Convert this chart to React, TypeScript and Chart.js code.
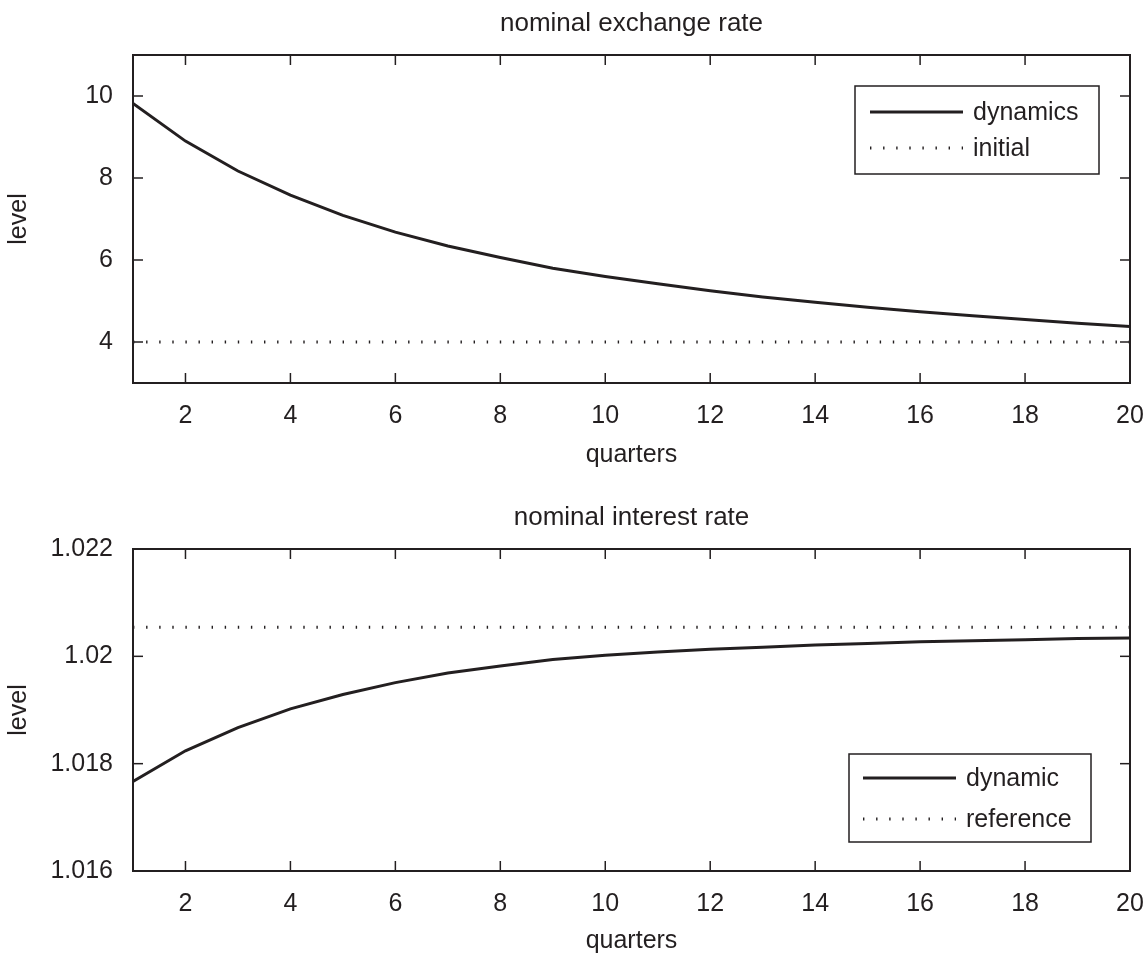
import React, { useEffect, useRef } from "react";
import { Chart, registerables } from "chart.js";

Chart.register(...registerables);

// ---------- data ----------
const quarters = [1, 2, 3, 4, 5, 6, 7, 8, 9, 10, 11, 12, 13, 14, 15, 16, 17, 18, 19, 20];
const quarterTicks = [2, 4, 6, 8, 10, 12, 14, 16, 18, 20];

const exchangeDynamics = [9.82, 8.9, 8.17, 7.58, 7.09, 6.68, 6.34, 6.06, 5.8, 5.6, 5.42, 5.25, 5.1, 4.97, 4.85, 4.74, 4.64, 4.55, 4.46, 4.38];
const exchangeInitial = [4, 4, 4, 4, 4, 4, 4, 4, 4, 4, 4, 4, 4, 4, 4, 4, 4, 4, 4, 4];
const exchangeTicks = [4, 6, 8, 10];

const interestDynamic = [1.01767, 1.01824, 1.01867, 1.01902, 1.01929, 1.01951, 1.01969, 1.01982, 1.01994, 1.02002, 1.02008, 1.02013, 1.02017, 1.02021, 1.02024, 1.02027, 1.02029, 1.02031, 1.02033, 1.02034];
const interestReference = [1.02054, 1.02054, 1.02054, 1.02054, 1.02054, 1.02054, 1.02054, 1.02054, 1.02054, 1.02054, 1.02054, 1.02054, 1.02054, 1.02054, 1.02054, 1.02054, 1.02054, 1.02054, 1.02054, 1.02054];
const interestTicks = [1.016, 1.018, 1.02, 1.022];

// ---------- styles ----------
const INK = "#231f20";
const FONT = "'Liberation Sans', Arial, Helvetica, sans-serif";
const FS = 25;
const TITLE_FS = 26;

const frameTicksPlugin = {
  id: "frameTicks",
  afterDatasetsDraw(chart: any, _args: any, opts: any) {
    const { ctx, chartArea: a, scales } = chart;
    const len = 10;
    ctx.save();
    ctx.strokeStyle = INK;
    ctx.lineWidth = 1.5;
    const seg = (x1: number, y1: number, x2: number, y2: number) => {
      ctx.beginPath();
      ctx.moveTo(x1, y1);
      ctx.lineTo(x2, y2);
      ctx.stroke();
    };
    scales.x.ticks.forEach((t: any) => {
      const px = scales.x.getPixelForValue(t.value);
      seg(px, a.bottom, px, a.bottom - len);
      seg(px, a.top, px, a.top + len);
    });
    scales.y.ticks.forEach((t: any) => {
      const py = scales.y.getPixelForValue(t.value);
      seg(a.left, py, a.left + len, py);
      seg(a.right, py, a.right - len, py);
    });
    ctx.lineWidth = 2;
    ctx.strokeRect(a.left, a.top, a.right - a.left, a.bottom - a.top);

    // title centred over the plot area
    if (opts && opts.title) {
      ctx.fillStyle = INK;
      ctx.font = `${TITLE_FS}px ${FONT}`;
      ctx.textAlign = "center";
      ctx.textBaseline = "alphabetic";
      ctx.fillText(opts.title, (a.left + a.right) / 2, a.top - opts.titleGap);
    }

    // legend box
    const lg = opts && opts.legend;
    if (lg) {
      const bx = a.left + lg.left;
      const by = a.top + lg.top;
      ctx.fillStyle = "#ffffff";
      ctx.fillRect(bx, by, lg.width, lg.height);
      ctx.lineWidth = 1.5;
      ctx.strokeStyle = INK;
      ctx.strokeRect(bx, by, lg.width, lg.height);
      ctx.font = `${FS}px ${FONT}`;
      ctx.textBaseline = "middle";
      ctx.textAlign = "left";
      chart.data.datasets.forEach((ds: any, i: number) => {
        const ry = by + lg.rows[i];
        ctx.save();
        ctx.strokeStyle = ds.borderColor;
        ctx.lineWidth = ds.borderWidth;
        ctx.lineCap = "butt";
        ctx.setLineDash(ds.borderDash || []);
        ctx.beginPath();
        ctx.moveTo(bx + lg.lineStart, ry);
        ctx.lineTo(bx + lg.lineEnd, ry);
        ctx.stroke();
        ctx.restore();
        ctx.fillStyle = INK;
        ctx.fillText(ds.label, bx + lg.textX, ry + 1);
      });
    }
    ctx.restore();
  },
};

type PlotProps = {
  top: number;
  height: number;
  title: string;
  padTop: number;
  xAxisHeight: number;
  yMin: number;
  yMax: number;
  yTicks: number[];
  labels: [string, string];
  solid: number[];
  dotted: number[];
  legend: any;
};

function SubPlot(p: PlotProps) {
  const ref = useRef<HTMLCanvasElement | null>(null);
  useEffect(() => {
    if (!ref.current) return;
    const chart = new Chart(ref.current, {
      type: "line",
      data: {
        datasets: [
          {
            label: p.labels[0],
            data: quarters.map((q, i) => ({ x: q, y: p.solid[i] })),
            borderColor: INK,
            borderWidth: 3,
            pointRadius: 0,
            tension: 0,
            fill: false,
          },
          {
            label: p.labels[1],
            data: quarters.map((q, i) => ({ x: q, y: p.dotted[i] })),
            borderColor: INK,
            borderWidth: 3,
            borderDash: [1.4, 11.7],
            borderCapStyle: "butt",
            pointRadius: 0,
            tension: 0,
            fill: false,
          },
        ],
      },
      options: {
        responsive: false,
        animation: false,
        events: [],
        layout: { padding: { top: p.padTop, left: 0, right: 18, bottom: 0 } },
        plugins: {
          legend: { display: false },
          tooltip: { enabled: false },
          title: { display: false },
          frameTicks: { legend: p.legend, title: p.title, titleGap: 24 },
        } as any,
        scales: {
          x: {
            type: "linear",
            min: 1,
            max: 20,
            afterBuildTicks: (s: any) => {
              s.ticks = quarterTicks.map((v) => ({ value: v }));
            },
            afterFit: (s: any) => {
              s.height = p.xAxisHeight;
              s.paddingRight = 0;
              s.paddingLeft = 0;
            },
            grid: { display: false, drawTicks: false },
            border: { display: false },
            ticks: {
              color: INK,
              font: { family: FONT, size: FS },
              padding: 18,
              maxRotation: 0,
              autoSkip: false,
            },
            title: {
              display: true,
              text: "quarters",
              color: INK,
              font: { family: FONT, size: FS },
              padding: { top: 0, bottom: 0 },
            },
          },
          y: {
            type: "linear",
            min: p.yMin,
            max: p.yMax,
            afterBuildTicks: (s: any) => {
              s.ticks = p.yTicks.map((v) => ({ value: v }));
            },
            afterFit: (s: any) => {
              s.width = 133;
              s.paddingTop = 0;
              s.paddingBottom = 0;
            },
            grid: { display: false, drawTicks: false },
            border: { display: false },
            ticks: {
              color: INK,
              font: { family: FONT, size: FS },
              padding: 20,
              autoSkip: false,
              callback: (v: any) => String(Number(Number(v).toFixed(4))),
            },
            title: {
              display: true,
              text: "level",
              color: INK,
              font: { family: FONT, size: FS },
              padding: { top: 4, bottom: 0 },
            },
          },
        },
      } as any,
      plugins: [frameTicksPlugin],
    });
    return () => chart.destroy();
  }, []);
  return (
    <div style={{ position: "absolute", left: 0, top: p.top, width: 1148, height: p.height }}>
      <canvas ref={ref} width={1148} height={p.height} style={{ display: "block" }} />
    </div>
  );
}

export default function App() {
  return (
    <div style={{ position: "absolute", left: 0, top: 0, width: 1148, height: 956, background: "#fff", overflow: "hidden" }}>
      <SubPlot
        top={0}
        height={470}
        title="nominal exchange rate"
        padTop={55}
        xAxisHeight={87}
        yMin={3}
        yMax={11}
        yTicks={exchangeTicks}
        labels={["dynamics", "initial"]}
        solid={exchangeDynamics}
        dotted={exchangeInitial}
        legend={{ left: 722, top: 31, width: 244, height: 88, lineStart: 15, lineEnd: 108, textX: 118, rows: [26, 62] }}
      />
      <SubPlot
        top={470}
        height={486}
        title="nominal interest rate"
        padTop={79}
        xAxisHeight={85}
        yMin={1.016}
        yMax={1.022}
        yTicks={interestTicks}
        labels={["dynamic", "reference"]}
        solid={interestDynamic}
        dotted={interestReference}
        legend={{ left: 716, top: 205, width: 242, height: 88, lineStart: 14, lineEnd: 107, textX: 117, rows: [24, 65] }}
      />
    </div>
  );
}
